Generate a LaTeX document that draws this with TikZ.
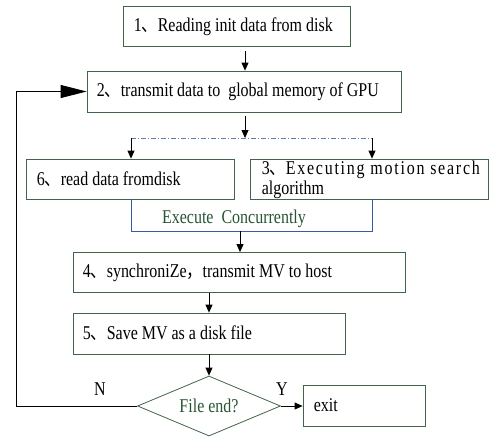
\documentclass[tikz,border=0pt]{standalone}
\usepackage{fontspec}
\setmainfont{Liberation Serif}[FakeStretch=0.82]
\newfontfamily\widefont{Liberation Serif}[LetterSpace=9,FakeStretch=0.82]
\newfontfamily\cjk{Noto Sans CJK SC}[FakeStretch=0.82]
\usetikzlibrary{arrows.meta,shapes.geometric}
\definecolor{boxgreen}{RGB}{66,100,72}
\definecolor{txtgreen}{RGB}{40,84,52}
\definecolor{dashblue}{RGB}{96,124,170}
\definecolor{brkblue}{RGB}{52,92,160}
\newcommand{\dun}{{\cjk 、}}
\newcommand{\dou}{{\cjk ，}}
\begin{document}
\begin{tikzpicture}[x=1pt,y=-1pt,
   font=\fontsize{19.5}{24}\selectfont,
   stepbox/.style={draw=boxgreen,line width=.8pt,rectangle,inner sep=0pt},
   steptext/.style={anchor=west,inner sep=0pt,align=left},
   flow/.style={-{Triangle[length=8pt,width=7pt]},line width=.8pt},
   bigflow/.style={-{Triangle[length=26pt,width=13pt]},line width=.8pt}]
   \useasboundingbox (0,0) rectangle (489,436);

   \node[stepbox,minimum width=227pt,minimum height=40pt] (b1) at (236.5,26.5) {};
   \node[stepbox,minimum width=314pt,minimum height=41pt] (b2) at (244,91.5) {};
   \node[stepbox,minimum width=208pt,minimum height=40pt] (b6) at (130,179) {};
   \node[stepbox,minimum width=238pt,minimum height=40pt] (b3) at (369,179) {};
   \node[stepbox,minimum width=332pt,minimum height=40pt] (b4) at (239,272.5) {};
   \node[stepbox,minimum width=272pt,minimum height=41pt] (b5) at (209,333.5) {};
   \node[draw=boxgreen,line width=.8pt,diamond,aspect=2.4,minimum width=143pt,minimum height=60pt,inner sep=0pt,text=txtgreen] (dec) at (209,406) {File end?};
   \node[stepbox,minimum width=122pt,minimum height=41pt] (ex) at (364,405.5) {};

   \node[steptext] (t1) at ([xshift=11pt]b1.west) {1\dun Reading init data from disk};
   \node[steptext] (t2) at ([xshift=10pt]b2.west) {2\dun transmit data to~ global memory of GPU};
   \node[steptext] (t6) at ([xshift=11pt]b6.west) {6\dun read data fromdisk};
   \node[steptext,font=\fontsize{19.5}{20}\selectfont] (t3) at ([xshift=12pt,yshift=-1pt]b3.west)
      {{\widefont 3\dun Executing motion search}\\algorithm};
   \node[steptext] (t4) at ([xshift=10pt]b4.west) {4\dun synchroniZe\dou transmit MV to host};
   \node[steptext] (t5) at ([xshift=10pt]b5.west) {5\dun Save MV as a disk file};
   \node[steptext] (tx) at ([xshift=11pt]ex.west) {exit};
   %%%%%%%%%%
   \coordinate (sp) at (245,138);
   \coordinate (sl) at (131,138);
   \coordinate (sr) at (372,138);
   \coordinate (cl) at (131,231);
   \coordinate (cr) at (372,231);
   \coordinate (cm) at (240,231);
   \coordinate (loop) at (16,406);

   \draw[flow] (b1.south) ++(8.5,4) coordinate (a1) -- (a1 |- b2.north);
   \draw[flow] (b2.south) ++(1,4) coordinate (a2) -- (sp);
   \draw[dashblue,line width=.8pt,dash pattern=on 5pt off 2pt on 1pt off 2pt] (sl) -- (sr);
   \draw[flow] (sl) -- (sl |- b6.north);
   \draw[flow] (sr) -- (sr |- b3.north);
   \draw[brkblue,line width=.8pt] (sl |- b6.south) -- (cl) -- (cr) -- (sr |- b3.south);
   \node[txtgreen] (conc) at (234,219) {Execute~ Concurrently};
   \draw[flow] (cm) -- (cm |- b4.north);
   %%%%%%%%%%
   \draw[flow] (b4.south -| b5) -- (b5.north);
   \draw[flow] (b5.south) -- (dec.north);
   \draw[flow] (dec.east) -- (ex.west |- dec.east);
   \draw[bigflow] (dec.west) -- (loop) |- (b2.west);
   \node (no) at (100,389) {N};
   \node (yes) at (282,389) {Y};
\end{tikzpicture}
\end{document}
